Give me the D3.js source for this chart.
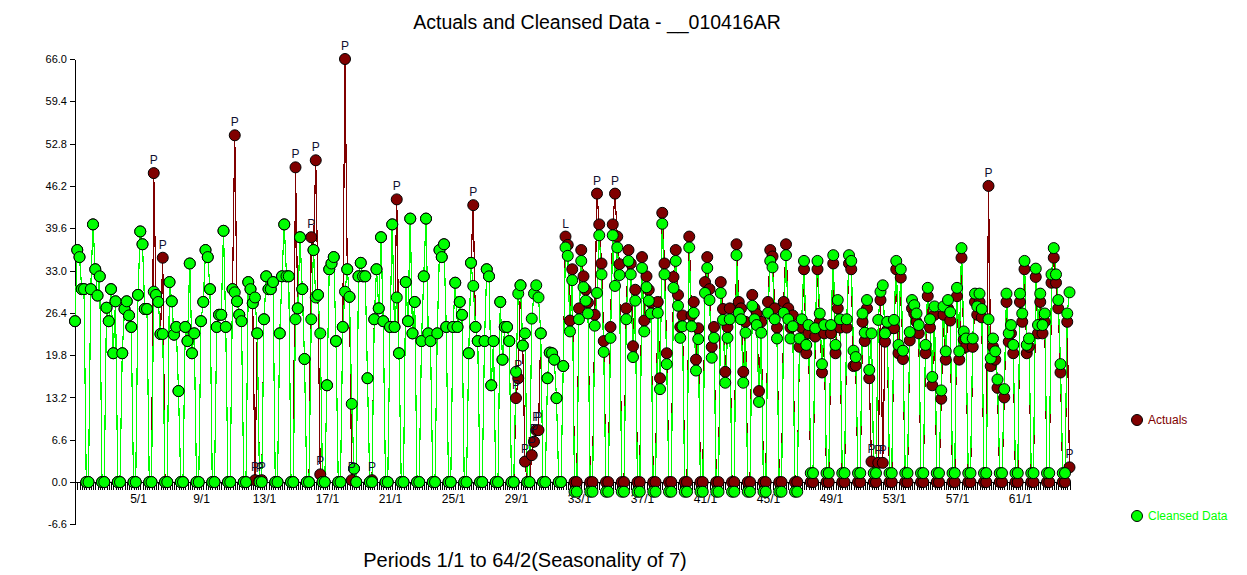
<!DOCTYPE html>
<html><head><meta charset="utf-8">
<script src="https://cdn.jsdelivr.net/npm/d3@7"></script>
<style>body{margin:0;background:#fff} svg{display:block} text{font-family:"Liberation Sans",Arial,sans-serif}</style>
</head><body><svg id="c" width="1247" height="575"></svg>
<script>
// one row per week (7 periods), last week has 2 periods
const actuals = [
25.1,36.2,35.1,30.1,30.1,0,0,
30.1,40.2,33.2,29.1,32.1,0,0,
27.2,25.1,30.1,20.1,28.2,0,0,
20.1,27.0,28.2,26.0,24.2,0,0,
29.2,39.1,37.1,27.0,27.0,0,0,
48.2,29.2,28.1,23.1,35.0,0,0,
31.2,28.2,23.0,24.2,14.2,0,0,
24.2,22.0,34.1,20.1,23.2,0,0,
25.1,28.1,36.2,35.1,30.1,0,0,
24.2,26.1,26.1,39.2,24.2,0,0,
30.1,54.1,28.2,26.1,25.1,0,0,
31.2,30.1,27.9,0.3,23.2,0.2,0.3,
25.4,32.1,30.1,30.1,31.2,0,0,
23.2,32.1,40.2,32.1,32.1,0,0,
49.1,27.1,38.2,30.1,19.2,0,0,
38.2,36.2,50.2,29.2,1.2,0,0,
15.1,33.2,34.1,35.1,22.0,0,0,
24.2,66.0,33.2,28.9,0.3,2.1,0,
32.1,34.2,32.1,32.1,16.2,0,0.3,
25.4,33.2,27.1,38.2,25.1,0,0,
24.2,40.2,24.2,44.1,20.1,0,0,
31.2,25.1,41.1,23.2,28.1,0,0,
22.0,32.1,41.1,23.2,22.0,0,0,
23.2,36.2,35.1,37.1,24.2,0,0,
24.2,31.1,24.2,28.1,26.1,0,0,
20.1,34.2,43.2,24.2,22.0,0,0,
22.0,33.2,32.1,15.1,22.0,0,0,
28.1,19.1,24.2,24.2,22.0,0,0,
13.1,16.2,30.7,21.3,3.2,0,0,
4.2,6.3,8.1,8.1,23.2,0,0,
16.2,20.2,20.1,19.1,13.1,0,0,
18.1,38.3,37.0,25.2,33.2,0,0,
27.1,36.2,32.1,30.0,28.0,0,0,
26.1,45.0,40.2,34.1,22.0,0,0,
24.2,40.2,45.0,38.3,34.0,0,0,
27.1,36.2,34.1,21.2,30.0,0,0,
35.1,25.2,32.1,30.0,28.0,0,0,
28.1,16.2,42.0,34.1,20.1,0,0,
32.0,36.2,29.2,24.2,26.0,0,0,
38.3,26.0,28.1,19.1,24.0,0,0,
31.2,35.1,30.1,21.1,24.2,0,0,
31.2,27.0,17.2,24.2,27.1,0,0,
37.1,28.1,27.1,17.2,25.0,0,0,
29.2,27.1,26.2,14.2,25.0,0,0,
28.1,36.2,35.2,27.1,24.1,0,0,
28.1,37.1,27.1,24.1,26.0,0,0,
21.1,24.1,33.2,20.1,23.2,0,0,
22.7,33.2,25.0,17.1,23.2,0,0,
23.2,34.1,20.1,27.1,24.1,0,0,
24.1,34.1,33.2,18.1,18.2,0,0,
25.0,22.0,27.1,16.2,3.2,0,0,
3.0,28.4,3.0,21.9,23.7,0,0,
24.0,33.2,20.1,31.9,19.2,0,0,
22.1,27.1,26.3,25.0,23.2,0,0,
20.1,29.0,24.1,15.1,26.1,0,0,
13.0,26.1,19.1,27.1,25.2,0,0,
29.0,19.1,35.0,22.2,21.1,0,0,
21.1,28.1,26.1,28.1,25.7,0,0,
46.2,18.1,21.1,19.1,14.7,0,0,
13.2,28.1,21.9,23.2,20.1,0,0,
28.1,25.0,33.2,20.1,21.1,0,0,
32.0,23.2,28.1,23.2,25.0,0,0,
31.1,35.0,31.1,27.1,17.1,0,0,
25.0,2.3
];
const cleansed = [
25.1,36.2,35.1,30.1,30.1,0,0,
30.1,40.2,33.2,29.1,32.1,0,0,
27.2,25.1,30.1,20.1,28.2,0,0,
20.1,27.0,28.2,26.0,24.2,0,0,
29.2,39.1,37.1,27.0,27.0,0,0,
29.7,29.2,28.1,23.1,23.1,0,0,
31.2,28.2,23.0,24.2,14.2,0,0,
24.2,22.0,34.1,20.1,23.2,0,0,
25.1,28.1,36.2,35.1,30.1,0,0,
24.2,26.1,26.1,39.2,24.2,0,0,
30.1,29.6,28.2,26.1,25.1,0,0,
31.2,30.1,27.9,28.8,23.2,0,0,
25.4,32.1,30.1,30.1,31.2,0,0,
23.2,32.1,40.2,32.1,32.1,0,0,
25.4,27.1,38.2,30.1,19.2,0,0,
25.4,36.2,28.8,29.2,23.2,0,0,
15.1,33.2,34.1,35.1,22.0,0,0,
24.2,29.7,33.2,28.9,12.2,2.1,0,
32.1,34.2,32.1,32.1,16.2,0,0,
25.4,33.2,27.1,38.2,25.1,0,0,
24.2,40.2,24.2,28.8,20.1,0,0,
31.2,25.1,41.1,23.2,28.1,0,0,
22.0,32.1,41.1,23.2,22.0,0,0,
23.2,36.2,35.1,37.1,24.2,0,0,
24.2,31.1,24.2,28.1,26.1,0,0,
20.1,34.2,30.6,24.2,22.0,0,0,
22.0,33.2,32.1,15.1,22.0,0,0,
28.1,19.1,24.2,24.2,22.0,0,0,
17.2,29.4,30.7,21.3,23.2,0,0,
25.5,29.4,30.7,28.8,23.2,0,0,
16.2,20.2,20.1,19.1,13.1,0,0,
18.1,36.6,35.3,23.5,31.5,-1.5,-1.5,
25.4,34.5,30.4,28.3,26.3,-1.5,-1.5,
24.4,29.5,38.5,32.4,20.3,-1.5,-1.5,
22.5,38.5,30.6,36.6,32.3,-1.5,-1.5,
25.4,34.5,32.4,19.5,28.3,-1.5,-1.5,
33.4,23.5,30.4,28.3,26.3,-1.5,-1.5,
26.4,14.5,40.3,32.4,18.4,-1.5,-1.5,
30.3,34.5,27.5,22.5,24.3,-1.5,-1.5,
36.6,24.3,26.4,17.4,22.3,-1.5,-1.5,
29.5,33.4,28.4,19.4,22.5,-1.5,-1.5,
29.5,25.3,15.5,22.5,25.4,-1.5,-1.5,
35.4,26.4,25.4,15.5,23.3,-1.5,-1.5,
27.5,25.4,24.5,12.5,23.3,-1.5,-1.5,
26.4,34.5,33.5,25.4,22.4,-1.5,-1.5,
26.4,35.4,25.4,22.4,24.3,-1.5,-1.5,
22.4,25.4,34.5,21.4,24.5,1.4,1.4,
24.0,34.5,26.3,18.4,24.5,1.4,1.4,
24.5,35.4,21.4,28.4,25.4,1.4,1.4,
25.4,35.4,34.5,20.5,19.5,1.4,1.4,
26.3,23.3,28.4,17.5,23.2,1.4,1.4,
25.3,29.7,30.7,23.2,25.0,1.4,1.4,
25.3,34.5,21.4,33.2,20.5,1.4,1.4,
23.4,28.4,27.6,26.3,24.5,1.4,1.4,
21.4,30.3,25.4,16.4,27.4,1.4,1.4,
14.3,27.4,20.4,28.4,26.5,1.4,1.4,
30.3,20.4,36.5,23.5,22.4,1.4,1.4,
22.4,29.4,27.4,29.4,27.0,1.4,1.4,
25.4,19.3,22.4,20.4,16.0,1.4,1.4,
14.5,29.4,23.2,24.5,21.4,1.4,1.4,
29.4,26.3,34.5,21.4,22.4,1.4,1.4,
33.3,24.5,29.4,24.5,26.3,1.4,1.4,
32.4,36.5,32.4,28.4,18.4,1.4,1.4,
26.3,29.6
];
const pointLabels = [[35,"P"],[39,"P"],[71,"P"],[80,"P"],[82,"P"],[83,"P"],[98,"P"],[105,"P"],[107,"P"],[109,"P"],[120,"P"],[123,"P"],[132,"P"],[143,"P"],[177,"P"],[196,"P"],[197,"P"],[200,"P"],[203,"P"],[204,"P"],[205,"P"],[206,"P"],[218,"L"],[232,"P"],[240,"P"],[354,"P"],[357,"P"],[359,"P"],[406,"P"],[442,"P"]];
const xTickLabels = ["5/1","9/1","13/1","17/1","21/1","25/1","29/1","33/1","37/1","41/1","45/1","49/1","53/1","57/1","61/1"];
const yTickValues = [-6.6,0,6.6,13.2,19.8,26.4,33.0,39.6,46.2,52.8,59.4,66.0];
const seasonality = 7;

const svg = d3.select("#c");
const n = actuals.length;
const x = d3.scaleLinear().domain([0, n - 1]).range([75, 1069.5]);
const y = d3.scaleLinear().domain([-6.6, 66]).range([524.4, 59]);
const idx = s => { const [w, d] = s.split("/").map(Number); return (w - 1) * seasonality + (d - 1); };

// titles
svg.append("text").attr("x", 597).attr("y", 29).attr("text-anchor", "middle")
  .style("font-size", "19.5px").attr("fill", "#000").text("Actuals and Cleansed Data - __010416AR");
svg.append("text").attr("x", 525).attr("y", 567).attr("text-anchor", "middle")
  .style("font-size", "20px").attr("fill", "#000").text("Periods 1/1 to 64/2(Seasonality of 7)");

// y axis
const yAxis = svg.append("g").attr("transform", "translate(75,0)")
  .call(d3.axisLeft(y).tickValues(yTickValues).tickFormat(d => d.toFixed(1)).tickSize(5).tickSizeOuter(0));
yAxis.select(".domain").attr("stroke", "#000").attr("shape-rendering", "crispEdges");
yAxis.selectAll(".tick line").attr("stroke", "#000").attr("shape-rendering", "crispEdges");
yAxis.selectAll("text").style("font-size", "11px").attr("fill", "#000").attr("x", -8);

// x axis at zero, a tick for every period
const xAxis = svg.append("g").attr("transform", `translate(0,${y(0)})`)
  .call(d3.axisBottom(x).tickValues(d3.range(n)).tickFormat("").tickSize(8).tickSizeOuter(0));
xAxis.select(".domain").attr("stroke", "#000").attr("shape-rendering", "crispEdges");
xAxis.selectAll(".tick line").attr("stroke", "#000").attr("shape-rendering", "crispEdges");
const xLab = svg.append("g").attr("transform", `translate(0,${y(0)})`)
  .call(d3.axisBottom(x).tickValues(xTickLabels.map(idx)).tickFormat((d, i) => xTickLabels[i]).tickSize(0).tickPadding(12));
xLab.select(".domain").remove();
xLab.selectAll("text").style("font-size", "12px").attr("fill", "#000");

const line = d3.line().x((d, i) => x(i)).y(d => y(d));
svg.append("path").datum(actuals).attr("d", line).attr("fill", "none")
  .attr("stroke", "#800000").attr("stroke-width", 1.2).attr("shape-rendering", "crispEdges");
svg.append("path").datum(cleansed).attr("d", line).attr("fill", "none")
  .attr("stroke", "#00ff00").attr("stroke-width", 1.2).attr("shape-rendering", "crispEdges");

svg.append("g").selectAll("circle").data(actuals).join("circle")
  .attr("cx", (d, i) => x(i)).attr("cy", d => y(d)).attr("r", 5.5)
  .attr("fill", "#800000").attr("stroke", "#000").attr("stroke-width", 1);
svg.append("g").selectAll("circle").data(cleansed).join("circle")
  .attr("cx", (d, i) => x(i)).attr("cy", d => y(d)).attr("r", 5.5)
  .attr("fill", "#00ff00").attr("stroke", "#000").attr("stroke-width", 1);

svg.append("g").selectAll("text").data(pointLabels).join("text")
  .attr("x", d => x(d[0])).attr("y", d => y(actuals[d[0]]) - 9)
  .attr("text-anchor", "middle").style("font-size", "12px").attr("fill", "#101030").text(d => d[1]);

// legend
const legend = [["Actuals", "#800000", 420], ["Cleansed Data", "#00ff00", 516]];
const lg = svg.append("g").selectAll("g").data(legend).join("g");
lg.append("circle").attr("cx", 1137).attr("cy", d => d[2]).attr("r", 5.5)
  .attr("fill", d => d[1]).attr("stroke", "#000");
lg.append("text").attr("x", 1148).attr("y", d => d[2] + 4).style("font-size", "12px")
  .attr("fill", d => d[1]).text(d => d[0]);
</script></body></html>
